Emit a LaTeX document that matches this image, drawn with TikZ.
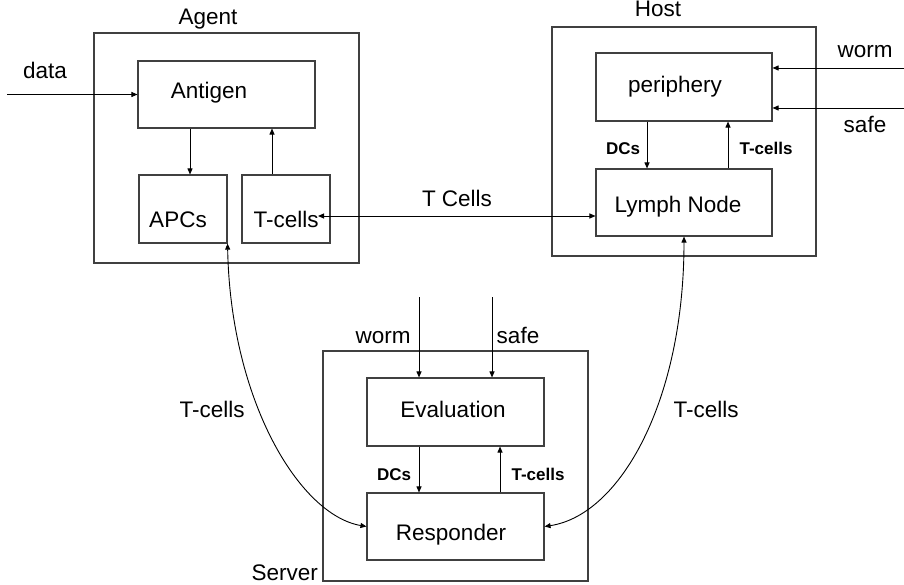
\documentclass[tikz,border=0pt]{standalone}
\usepackage{fontspec}
\setmainfont{Liberation Sans}
\usetikzlibrary{arrows.meta}

\begin{document}
\begin{tikzpicture}[x=1pt, y=-1pt,
  box/.style={draw=black!75, line width=1.1pt, rectangle, inner sep=0pt},
  lbl/.style={anchor=base, inner sep=0pt, font=\fontsize{22.5}{26}\selectfont},
  blbl/.style={anchor=base, inner sep=0pt, font=\fontsize{17}{20}\selectfont\bfseries},
  arr/.style={draw=black, line width=0.9pt, -{Triangle[length=6pt,width=5pt]}},
  arrtwo/.style={draw=black, line width=0.9pt, {Triangle[length=6pt,width=5pt]}-{Triangle[length=6pt,width=5pt]}}]
\useasboundingbox (0,0) rectangle (904,585);

% outer containers
\node[box, minimum width=265pt, minimum height=230pt] (agent) at (226.5,148) {};
\node[box, minimum width=264pt, minimum height=229pt] (host) at (684,141.5) {};
\node[box, minimum width=265pt, minimum height=230pt] (server) at (455.5,466) {};

% inner blocks
\node[box, minimum width=177pt, minimum height=67pt] (antigen) at (226.5,94.5) {};
\node[box, minimum width=88pt, minimum height=68pt] (apcs) at (183,209) {};
\node[box, minimum width=88pt, minimum height=68pt] (tcellsA) at (286,209) {};
\node[box, minimum width=176pt, minimum height=68pt] (periphery) at (684,87) {};
\node[box, minimum width=176pt, minimum height=67pt] (lymph) at (684,202.5) {};
\node[box, minimum width=177pt, minimum height=68pt] (evaluation) at (455.5,412) {};
\node[box, minimum width=177pt, minimum height=67pt] (responder) at (455.5,526.5) {};

% texts
\node[lbl] (tAgent) at (208,25) {Agent};
\node[lbl] (tHost) at (658,17) {Host};
\node[lbl, anchor=base east] (tServer) at (318,580) {Server};
\node[lbl] (tData) at (45,79) {data};
\node[lbl] (tAntigen) at (209,99) {Antigen};
\node[lbl] (tApcs) at (178,228) {APCs};
\node[lbl] (tTcellsA) at (286,228) {T-cells};
\node[lbl] (tTCells) at (457,207) {T Cells};
\node[lbl] (tPeriphery) at (675,93) {periphery};
\node[lbl] (tLymph) at (678,213) {Lymph Node};
\node[lbl] (tWormH) at (865,58) {worm};
\node[lbl] (tSafeH) at (865,133) {safe};
\node[blbl] (tDcsH) at (623,155) {DCs};
\node[blbl] (tTcH) at (766,155) {T-cells};
\node[lbl] (tEval) at (453,417) {Evaluation};
\node[lbl] (tResp) at (451,540) {Responder};
\node[lbl] (tWormS) at (383,343) {worm};
\node[lbl] (tSafeS) at (518,343) {safe};
\node[blbl] (tDcsS) at (394,480) {DCs};
\node[blbl] (tTcS) at (538,480) {T-cells};
\node[lbl] (tTcL) at (212,417) {T-cells};
\node[lbl] (tTcR) at (706,417) {T-cells};

% free ends of the input arrows
\coordinate (dataIn) at (7,94.5);
\coordinate (wormIn) at (904,68);
\coordinate (safeIn) at (904,108);
\coordinate (wormS) at (419,297);
\coordinate (safeS) at (492,297);

% agent
\draw[arr] (dataIn) -- (antigen.west);
\draw[arr] ([xshift=-36.5pt]antigen.south) -- ([xshift=7pt]apcs.north);
\draw[arr] ([xshift=-14pt]tcellsA.north) -- ([xshift=45.5pt]antigen.south);

% host
\draw[arr] (wormIn) -- (wormIn -| periphery.east);
\draw[arr] (safeIn) -- (safeIn -| periphery.east);
\draw[arr] ([xshift=-37pt]periphery.south) -- ([xshift=-37pt]lymph.north);
\draw[arr] ([xshift=44pt]lymph.north) -- ([xshift=44pt]periphery.south);

% agent <-> host
\draw[arrtwo] ([xshift=32pt,yshift=-7pt]tcellsA.center) -- ([yshift=-13.5pt]lymph.west);

% server
\draw[arr] (wormS) -- (wormS |- evaluation.north);
\draw[arr] (safeS) -- (safeS |- evaluation.north);
\draw[arr] (evaluation.south -| wormS) -- (responder.north -| wormS);
\draw[arr] ([xshift=44.5pt]responder.north) -- ([xshift=44.5pt]evaluation.south);

% links to the server
\draw[arrtwo] (apcs.south east) .. controls +(3,157) and +(-67,-11.5) .. (responder.west);
\draw[arrtwo] (lymph.south) .. controls +(0,164) and +(76,-11.5) .. (responder.east);
\end{tikzpicture}
\end{document}
